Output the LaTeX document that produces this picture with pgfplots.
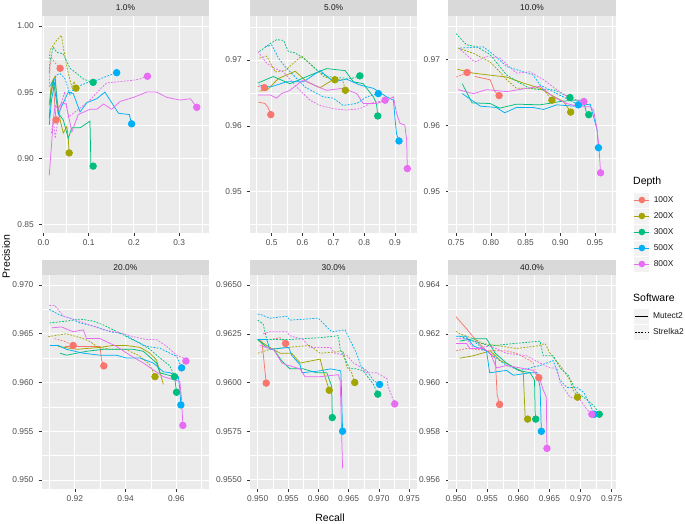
\documentclass[border=0pt]{standalone}
\usepackage{pgfplots}
\pgfplotsset{compat=1.18}
\usepackage{fontspec}
\setmainfont{Liberation Sans}
\definecolor{c100}{HTML}{F8766D}
\definecolor{c200}{HTML}{A3A500}
\definecolor{c300}{HTML}{00BF7D}
\definecolor{c500}{HTML}{00B0F6}
\definecolor{c800}{HTML}{E76BF3}
\definecolor{ggpanel}{HTML}{EBEBEB}
\definecolor{ggstrip}{HTML}{D9D9D9}
\definecolor{ggkey}{HTML}{F2F2F2}
\definecolor{gg30}{HTML}{4D4D4D}
\definecolor{gg20}{HTML}{333333}
\definecolor{gg10}{HTML}{1A1A1A}
\pgfplotsset{
  gg/.style={scale only axis, anchor=south west,
    axis background/.style={fill=ggpanel},
    grid=both,
    major grid style={white, line width=0.9pt},
    minor grid style={white, line width=0.45pt},
    axis line style={draw=none},
    tick pos=left, tick align=outside,
    major tick length=2.75pt, minor tick length=0pt,
    tick style={gg20, line width=0.5pt},
    tick label style={font=\fontsize{8.4}{9}\selectfont, text=gg30},
    yticklabel shift=2pt,
    every axis plot/.append style={line width=0.75pt},
  },
  M/.style={solid},
  S/.style={dash pattern=on 1.8pt off 1.4pt},
  D/.style={only marks, mark=*, mark size=3.3pt, mark options={solid}},
}
\begin{document}
\begin{tikzpicture}
\useasboundingbox (0pt,0pt) rectangle (685pt,523pt);

% ---------------- Panel 1.0% ----------------
\begin{axis}[gg, at={(42pt,290pt)}, width=167pt, height=217pt,
  xmin=-0.003, xmax=0.366, ymin=0.8434, ymax=1.0076,
  xtick={0,0.1,0.2,0.3}, xticklabels={0.0,0.1,0.2,0.3},
  minor xtick={0.05,0.15,0.25,0.35},
  ytick={0.85,0.90,0.95,1.00}, yticklabels={0.85,0.90,0.95,1.00},
  minor ytick={0.875,0.925,0.975}]
\addplot[c100,M] coordinates {(0.015,0.945)(0.022,0.957)(0.026,0.937)(0.028,0.929)};
\addplot[c100,S] coordinates {(0.013,0.954)(0.015,0.970)(0.018,0.976)(0.026,0.972)(0.037,0.968)};
\addplot[c200,M] coordinates {(0.013,0.940)(0.018,0.957)(0.026,0.962)(0.030,0.945)(0.037,0.929)(0.044,0.919)(0.052,0.924)(0.055,0.915)(0.057,0.904)};
\addplot[c200,S] coordinates {(0.013,0.975)(0.015,0.982)(0.029,0.989)(0.040,0.993)(0.044,0.984)(0.052,0.969)(0.059,0.959)(0.063,0.954)(0.068,0.958)(0.072,0.953)};
\addplot[c300,M] coordinates {(0.013,0.930)(0.017,0.950)(0.022,0.959)(0.033,0.934)(0.044,0.929)(0.055,0.915)(0.063,0.923)(0.081,0.923)(0.103,0.928)(0.105,0.896)(0.110,0.894)};
\addplot[c300,S] coordinates {(0.013,0.965)(0.015,0.974)(0.022,0.984)(0.030,0.980)(0.044,0.979)(0.052,0.973)(0.059,0.968)(0.074,0.964)(0.088,0.960)(0.103,0.958)(0.110,0.9574)};
\addplot[c500,M] coordinates {(0.013,0.925)(0.018,0.944)(0.026,0.959)(0.033,0.933)(0.040,0.939)(0.055,0.950)(0.066,0.949)(0.081,0.935)(0.096,0.942)(0.118,0.945)(0.136,0.950)(0.166,0.934)(0.190,0.933)(0.195,0.926)};
\addplot[c500,S] coordinates {(0.015,0.955)(0.022,0.958)(0.029,0.963)(0.037,0.964)(0.048,0.960)(0.059,0.948)(0.066,0.952)(0.081,0.955)(0.096,0.957)(0.118,0.959)(0.140,0.962)(0.162,0.9647)};
\addplot[c800,M] coordinates {(0.013,0.887)(0.018,0.910)(0.022,0.929)(0.026,0.940)(0.033,0.937)(0.040,0.942)(0.050,0.941)(0.063,0.920)(0.077,0.933)(0.103,0.937)(0.118,0.937)(0.133,0.941)(0.151,0.937)(0.170,0.943)(0.199,0.946)(0.228,0.950)(0.250,0.950)(0.273,0.946)(0.302,0.944)(0.325,0.945)(0.339,0.9385)};
\addplot[c800,S] coordinates {(0.018,0.919)(0.022,0.930)(0.026,0.915)(0.033,0.930)(0.040,0.942)(0.047,0.950)(0.055,0.931)(0.070,0.935)(0.085,0.939)(0.103,0.944)(0.125,0.952)(0.140,0.957)(0.170,0.958)(0.199,0.959)(0.214,0.960)(0.230,0.962)};
\addplot[c100,D] coordinates {(0.037,0.968)(0.028,0.929)};
\addplot[c200,D] coordinates {(0.072,0.953)(0.057,0.904)};
\addplot[c300,D] coordinates {(0.110,0.9574)(0.110,0.894)};
\addplot[c500,D] coordinates {(0.162,0.9647)(0.195,0.926)};
\addplot[c800,D] coordinates {(0.230,0.962)(0.339,0.9385)};
\end{axis}

% ---------------- Panel 5.0% ----------------
\begin{axis}[gg, at={(250pt,290pt)}, width=167.3pt, height=217pt,
  xmin=0.4295, xmax=0.9724, ymin=0.9437, ymax=0.9767,
  xtick={0.5,0.6,0.7,0.8,0.9}, xticklabels={0.5,0.6,0.7,0.8,0.9},
  minor xtick={0.45,0.55,0.65,0.75,0.85,0.95},
  ytick={0.95,0.96,0.97}, yticklabels={0.95,0.96,0.97},
  minor ytick={0.945,0.955,0.965,0.975}]
\addplot[c100,M] coordinates {(0.457,0.9636)(0.478,0.9634)(0.488,0.9628)(0.497,0.9617)};
\addplot[c100,S] coordinates {(0.455,0.9660)(0.466,0.9659)(0.476,0.9658)};
\addplot[c200,M] coordinates {(0.46,0.9653)(0.484,0.9654)(0.522,0.9672)(0.576,0.9683)(0.614,0.9667)(0.657,0.9658)(0.705,0.9672)};
\addplot[c200,S] coordinates {(0.46,0.9703)(0.484,0.9706)(0.511,0.9682)(0.543,0.9684)(0.597,0.9706)(0.63,0.9692)(0.668,0.9675)(0.70,0.967)(0.73,0.967)(0.739,0.9654)};
\addplot[c300,M] coordinates {(0.455,0.9665)(0.505,0.9675)(0.559,0.9664)(0.614,0.9675)(0.678,0.9687)(0.738,0.9684)(0.765,0.9667)(0.797,0.9664)(0.83,0.9644)(0.84,0.9634)(0.844,0.9615)};
\addplot[c300,S] coordinates {(0.46,0.9713)(0.495,0.9725)(0.516,0.9731)(0.538,0.973)(0.554,0.9713)(0.575,0.9711)(0.603,0.9703)(0.646,0.9685)(0.678,0.9675)(0.72,0.9673)(0.76,0.9672)(0.786,0.9676)};
\addplot[c500,M] coordinates {(0.46,0.9662)(0.495,0.9659)(0.549,0.9667)(0.603,0.9667)(0.657,0.9684)(0.70,0.9667)(0.743,0.9671)(0.786,0.9662)(0.83,0.9657)(0.873,0.9644)(0.895,0.9639)(0.90,0.9611)(0.905,0.9588)(0.913,0.9577)};
\addplot[c500,S] coordinates {(0.478,0.972)(0.5,0.9723)(0.522,0.9703)(0.543,0.969)(0.581,0.9672)(0.608,0.9659)(0.635,0.9652)(0.668,0.9644)(0.70,0.9642)(0.732,0.9631)(0.776,0.9634)(0.808,0.9644)(0.846,0.9649)};
\addplot[c800,M] coordinates {(0.455,0.9647)(0.495,0.9647)(0.516,0.9642)(0.532,0.9649)(0.559,0.9654)(0.603,0.967)(0.646,0.966)(0.678,0.9654)(0.732,0.9657)(0.776,0.9649)(0.797,0.9634)(0.84,0.9634)(0.873,0.9639)(0.895,0.9644)(0.905,0.9619)(0.916,0.9604)(0.932,0.9601)(0.938,0.9578)(0.94,0.9535)};
\addplot[c800,S] coordinates {(0.455,0.9713)(0.484,0.9695)(0.511,0.9687)(0.538,0.9682)(0.581,0.9659)(0.624,0.9639)(0.657,0.9631)(0.70,0.9626)(0.743,0.9624)(0.786,0.9626)(0.819,0.9634)(0.868,0.9639)};
\addplot[c100,D] coordinates {(0.476,0.9658)(0.497,0.9617)};
\addplot[c200,D] coordinates {(0.705,0.967)(0.739,0.9654)};
\addplot[c300,D] coordinates {(0.786,0.9676)(0.844,0.9615)};
\addplot[c500,D] coordinates {(0.846,0.9649)(0.913,0.9577)};
\addplot[c800,D] coordinates {(0.868,0.9639)(0.94,0.9535)};
\end{axis}

% ---------------- Panel 10.0% ----------------
\begin{axis}[gg, at={(448.3pt,290pt)}, width=167.4pt, height=217pt,
  xmin=0.7389, xmax=0.9798, ymin=0.94368, ymax=0.97656,
  xtick={0.75,0.80,0.85,0.90,0.95}, xticklabels={0.75,0.80,0.85,0.90,0.95},
  minor xtick={0.775,0.825,0.875,0.925,0.975},
  ytick={0.95,0.96,0.97}, yticklabels={0.95,0.96,0.97},
  minor ytick={0.945,0.955,0.965,0.975}]
\addplot[c100,M] coordinates {(0.777,0.9674)(0.799,0.9669)(0.806,0.9651)(0.812,0.9645)};
\addplot[c100,S] coordinates {(0.75,0.9673)(0.766,0.968)};
\addplot[c200,M] coordinates {(0.752,0.9685)(0.775,0.9679)(0.799,0.9676)(0.823,0.9673)(0.847,0.9664)(0.871,0.9656)(0.895,0.9641)(0.905,0.9636)(0.915,0.962)};
\addplot[c200,S] coordinates {(0.753,0.9717)(0.775,0.9709)(0.799,0.9696)(0.813,0.9681)(0.823,0.9669)(0.837,0.9656)(0.856,0.9656)(0.876,0.9654)(0.888,0.9638)};
\addplot[c300,M] coordinates {(0.759,0.9663)(0.773,0.9634)(0.799,0.9633)(0.813,0.9626)(0.837,0.9632)(0.871,0.9631)(0.90,0.9636)(0.919,0.9638)(0.933,0.9638)(0.938,0.9618)(0.941,0.9616)};
\addplot[c300,S] coordinates {(0.75,0.9739)(0.765,0.9722)(0.78,0.9719)(0.799,0.9707)(0.813,0.9689)(0.823,0.9676)(0.842,0.9664)(0.856,0.9656)(0.871,0.9654)(0.89,0.9654)(0.914,0.9642)};
\addplot[c500,M] coordinates {(0.759,0.9648)(0.785,0.9629)(0.808,0.9627)(0.82,0.9619)(0.837,0.9627)(0.861,0.9627)(0.876,0.9624)(0.895,0.9631)(0.919,0.9629)(0.943,0.9632)(0.948,0.9613)(0.953,0.9593)(0.955,0.9566)};
\addplot[c500,S] coordinates {(0.756,0.9717)(0.789,0.9719)(0.804,0.9707)(0.823,0.9689)(0.847,0.9681)(0.861,0.9676)(0.871,0.9661)(0.895,0.9648)(0.914,0.9638)(0.926,0.9631)};
\addplot[c800,M] coordinates {(0.753,0.9654)(0.775,0.9648)(0.794,0.9654)(0.823,0.9651)(0.852,0.9656)(0.871,0.9659)(0.89,0.9643)(0.909,0.9633)(0.928,0.9628)(0.943,0.9628)(0.948,0.9623)(0.953,0.9593)(0.956,0.9563)(0.958,0.9528)};
\addplot[c800,S] coordinates {(0.756,0.9715)(0.777,0.9696)(0.794,0.9704)(0.813,0.9702)(0.837,0.9679)(0.856,0.9681)(0.876,0.9669)(0.895,0.9654)(0.914,0.9641)(0.934,0.9636)};
\addplot[c100,D] coordinates {(0.766,0.968)(0.812,0.9645)};
\addplot[c200,D] coordinates {(0.888,0.9638)(0.915,0.962)};
\addplot[c300,D] coordinates {(0.914,0.9642)(0.941,0.9616)};
\addplot[c500,D] coordinates {(0.926,0.9631)(0.955,0.9566)};
\addplot[c800,D] coordinates {(0.934,0.9636)(0.958,0.9528)};
\end{axis}

% ---------------- Panel 20.0% ----------------
\begin{axis}[gg, at={(41.7pt,33.7pt)}, width=167.3pt, height=214pt,
  xmin=0.9069, xmax=0.9729, ymin=0.94905, ymax=0.97099,
  xtick={0.92,0.94,0.96}, xticklabels={0.92,0.94,0.96},
  minor xtick={0.91,0.93,0.95,0.97},
  ytick={0.950,0.955,0.960,0.965,0.970}, yticklabels={0.950,0.955,0.960,0.965,0.970},
  minor ytick={0.9525,0.9575,0.9625,0.9675}]
\addplot[c100,M] coordinates {(0.916,0.9637)(0.9299,0.9637)(0.9305,0.9623)(0.9314,0.9617)};
\addplot[c100,S] coordinates {(0.912,0.9645)(0.916,0.9642)(0.9193,0.9638)};
\addplot[c200,M] coordinates {(0.9134,0.9637)(0.9207,0.9634)(0.9299,0.9636)(0.935,0.9638)(0.940,0.9638)(0.9457,0.9636)(0.9496,0.963)(0.9522,0.9623)(0.9549,0.9598)};
\addplot[c200,S] coordinates {(0.9095,0.9647)(0.9167,0.965)(0.9233,0.9645)(0.9259,0.9642)(0.9286,0.9637)(0.9338,0.9634)(0.940,0.9634)(0.9457,0.9627)(0.9496,0.9618)(0.9516,0.9606)};
\addplot[c300,M] coordinates {(0.9141,0.963)(0.9167,0.9628)(0.9246,0.9632)(0.9312,0.9634)(0.9378,0.9634)(0.943,0.9634)(0.947,0.9632)(0.9522,0.962)(0.9535,0.961)(0.9562,0.9608)(0.9593,0.9606)(0.9601,0.959)};
\addplot[c300,S] coordinates {(0.9099,0.9661)(0.9167,0.9663)(0.922,0.9665)(0.9272,0.9663)(0.9312,0.9659)(0.9351,0.9654)(0.9404,0.9647)(0.9457,0.964)(0.9496,0.9634)(0.9536,0.9625)(0.9575,0.9617)(0.9593,0.9606)};
\addplot[c500,M] coordinates {(0.9101,0.9638)(0.9134,0.9638)(0.9167,0.9634)(0.9233,0.963)(0.9299,0.9628)(0.9364,0.9628)(0.9404,0.9625)(0.9457,0.9625)(0.9509,0.962)(0.9549,0.9611)(0.9575,0.961)(0.9608,0.9606)(0.9614,0.9593)(0.9618,0.9577)};
\addplot[c500,S] coordinates {(0.9099,0.9675)(0.9141,0.9669)(0.918,0.9666)(0.922,0.9661)(0.9286,0.9657)(0.9338,0.9652)(0.9391,0.965)(0.943,0.9644)(0.9483,0.9637)(0.9536,0.9635)(0.9575,0.963)(0.9601,0.9627)(0.9621,0.9615)};
\addplot[c800,M] coordinates {(0.9108,0.9656)(0.9147,0.9657)(0.9193,0.9652)(0.9233,0.9654)(0.9246,0.9645)(0.9299,0.9645)(0.9364,0.9637)(0.9417,0.9628)(0.947,0.962)(0.9509,0.9613)(0.9549,0.9606)(0.9588,0.9603)(0.9614,0.9601)(0.9621,0.9582)(0.9626,0.9556)};
\addplot[c800,S] coordinates {(0.9099,0.9679)(0.9121,0.9679)(0.9154,0.9668)(0.9207,0.9664)(0.9259,0.9659)(0.9312,0.9654)(0.9378,0.9651)(0.943,0.9647)(0.9483,0.9644)(0.9522,0.9644)(0.9562,0.9637)(0.9601,0.9628)(0.9628,0.9625)(0.9638,0.9622)};
\addplot[c100,D] coordinates {(0.9193,0.9638)(0.9314,0.9617)};
\addplot[c200,D] coordinates {(0.9516,0.9606)};
\addplot[c300,D] coordinates {(0.9593,0.9606)(0.9601,0.959)};
\addplot[c500,D] coordinates {(0.9621,0.9615)(0.9618,0.9577)};
\addplot[c800,D] coordinates {(0.9638,0.9622)(0.9626,0.9556)};
\end{axis}

% ---------------- Panel 30.0% ----------------
\begin{axis}[gg, at={(250pt,33.7pt)}, width=167.3pt, height=214pt,
  xmin=0.94873, xmax=0.97632, ymin=0.95452, ymax=0.9655,
  xtick={0.950,0.955,0.960,0.965,0.970,0.975}, xticklabels={0.950,0.955,0.960,0.965,0.970,0.975},
  minor xtick={0.9525,0.9575,0.9625,0.9675,0.9725},
  ytick={0.9550,0.9575,0.9600,0.9625,0.9650}, yticklabels={0.9550,0.9575,0.9600,0.9625,0.9650},
  minor ytick={0.95625,0.95875,0.96125,0.96375}]
\addplot[c100,M] coordinates {(0.95,0.9622)(0.9507,0.9621)(0.951,0.9612)(0.9514,0.95997)};
\addplot[c100,S] coordinates {(0.952,0.9622)(0.9537,0.9623)(0.9546,0.962)};
\addplot[c200,M] coordinates {(0.95,0.9622)(0.952,0.9618)(0.9537,0.9615)(0.9556,0.9615)(0.957,0.961)(0.9603,0.9612)(0.9608,0.9606)(0.9618,0.9596)};
\addplot[c200,S] coordinates {(0.95,0.9615)(0.952,0.9617)(0.9548,0.9618)(0.9586,0.9619)(0.9603,0.9615)(0.9641,0.9616)(0.9647,0.9608)(0.9655,0.9605)(0.966,0.96)};
\addplot[c300,M] coordinates {(0.95,0.9622)(0.9515,0.9618)(0.9526,0.9617)(0.954,0.9611)(0.9553,0.9607)(0.9575,0.9607)(0.9597,0.9605)(0.9614,0.9605)(0.9622,0.9598)(0.9623,0.9582)};
\addplot[c300,S] coordinates {(0.95,0.9632)(0.9509,0.963)(0.9515,0.9622)(0.9548,0.9622)(0.9603,0.9623)(0.9633,0.9624)(0.9636,0.9617)(0.9652,0.9607)(0.9663,0.9607)(0.9674,0.9606)(0.9691,0.9599)(0.9698,0.9594)};
\addplot[c500,M] coordinates {(0.95,0.9622)(0.9515,0.9622)(0.952,0.9617)(0.9551,0.9618)(0.9556,0.9614)(0.957,0.9609)(0.9573,0.9605)(0.9603,0.9606)(0.962,0.9607)(0.9637,0.9606)(0.9638,0.9598)(0.964,0.9575)};
\addplot[c500,S] coordinates {(0.95,0.9635)(0.9504,0.9635)(0.952,0.9633)(0.9548,0.9634)(0.9553,0.9632)(0.96,0.9633)(0.9622,0.9626)(0.9644,0.9627)(0.9652,0.9622)(0.9663,0.9615)(0.9671,0.9608)(0.968,0.9606)(0.9691,0.9601)(0.9701,0.9599)};
\addplot[c800,M] coordinates {(0.9504,0.9619)(0.9515,0.9618)(0.9526,0.9617)(0.954,0.961)(0.9548,0.9609)(0.957,0.9607)(0.9578,0.9603)(0.9603,0.9603)(0.9633,0.9604)(0.9636,0.9601)(0.964,0.9556)};
\addplot[c800,S] coordinates {(0.9509,0.9625)(0.952,0.9626)(0.9548,0.9626)(0.9553,0.9624)(0.9575,0.9622)(0.9586,0.9618)(0.962,0.9618)(0.9627,0.9615)(0.9647,0.9614)(0.9658,0.961)(0.9669,0.9608)(0.968,0.9605)(0.9696,0.9605)(0.9713,0.9602)(0.9715,0.9598)(0.9726,0.9589)};
\addplot[c100,D] coordinates {(0.9546,0.962)(0.9514,0.95997)};
\addplot[c200,D] coordinates {(0.966,0.96)(0.9618,0.9596)};
\addplot[c300,D] coordinates {(0.9698,0.9594)(0.9623,0.9582)};
\addplot[c500,D] coordinates {(0.9701,0.9599)(0.964,0.9575)};
\addplot[c800,D] coordinates {(0.9726,0.9589)};
\end{axis}

% ---------------- Panel 40.0% ----------------
\begin{axis}[gg, at={(448.3pt,33.7pt)}, width=167.4pt, height=214pt,
  xmin=0.94876, xmax=0.97564, ymin=0.95562, ymax=0.9644,
  xtick={0.950,0.955,0.960,0.965,0.970,0.975}, xticklabels={0.950,0.955,0.960,0.965,0.970,0.975},
  minor xtick={0.9525,0.9575,0.9625,0.9675,0.9725},
  ytick={0.956,0.958,0.960,0.962,0.964}, yticklabels={0.956,0.958,0.960,0.962,0.964},
  minor ytick={0.957,0.959,0.961,0.963}]
\addplot[c100,M] coordinates {(0.95,0.9627)(0.9517,0.9622)(0.9533,0.9617)(0.9549,0.9613)(0.9563,0.961)(0.9566,0.9595)(0.957,0.9591)};
\addplot[c100,S] coordinates {(0.95,0.9613)(0.9517,0.9614)(0.9555,0.9613)(0.9581,0.9613)(0.9597,0.9612)(0.9619,0.9609)(0.9624,0.9608)(0.9627,0.9605)(0.9633,0.9602)};
\addplot[c200,M] coordinates {(0.9506,0.961)(0.9528,0.9611)(0.9555,0.9613)(0.9571,0.9609)(0.9587,0.9607)(0.9603,0.9605)(0.9608,0.9604)(0.9611,0.9586)(0.9615,0.9585)};
\addplot[c200,S] coordinates {(0.95,0.9621)(0.9506,0.962)(0.9528,0.9618)(0.9544,0.9616)(0.9571,0.9615)(0.9597,0.9614)(0.963,0.9615)(0.9643,0.9616)(0.9651,0.9612)(0.9667,0.9607)(0.9683,0.9601)(0.9688,0.9597)(0.9695,0.9594)};
\addplot[c300,M] coordinates {(0.9506,0.9617)(0.9528,0.9618)(0.9549,0.9618)(0.9563,0.9612)(0.9581,0.9608)(0.96,0.9605)(0.9619,0.9604)(0.9626,0.9601)(0.9627,0.9588)(0.9628,0.9585)};
\addplot[c300,S] coordinates {(0.9506,0.9619)(0.9528,0.9617)(0.9555,0.9615)(0.9592,0.9616)(0.9635,0.9617)(0.964,0.9611)(0.9656,0.9611)(0.9667,0.9606)(0.968,0.9603)(0.9694,0.9596)(0.971,0.9593)(0.9723,0.959)(0.973,0.9587)};
\addplot[c500,M] coordinates {(0.95,0.9619)(0.9516,0.9619)(0.9528,0.9615)(0.9549,0.9613)(0.9554,0.9604)(0.9581,0.9605)(0.9592,0.9603)(0.9619,0.9604)(0.963,0.9604)(0.9635,0.9598)(0.9637,0.958)};
\addplot[c500,S] coordinates {(0.9512,0.9618)(0.9528,0.9617)(0.9549,0.9613)(0.9581,0.9607)(0.9603,0.9605)(0.9635,0.9607)(0.9656,0.9609)(0.9667,0.9601)(0.9678,0.9598)(0.9694,0.9598)(0.9705,0.9596)(0.9715,0.9591)(0.9722,0.9587)};
\addplot[c800,M] coordinates {(0.95,0.9616)(0.9517,0.9616)(0.9522,0.9614)(0.9544,0.9614)(0.9555,0.9612)(0.9565,0.9606)(0.9581,0.9607)(0.9603,0.9606)(0.9624,0.9605)(0.9635,0.9601)(0.964,0.9597)(0.9645,0.9594)(0.9646,0.9573)};
\addplot[c800,S] coordinates {(0.95,0.9618)(0.9517,0.9618)(0.9528,0.9614)(0.9555,0.9615)(0.9581,0.9612)(0.9613,0.9611)(0.9635,0.9608)(0.9651,0.9606)(0.9662,0.9606)(0.9667,0.96)(0.9683,0.9594)(0.9699,0.9593)(0.971,0.9589)(0.9718,0.9587)};
\addplot[c100,D] coordinates {(0.9633,0.9602)(0.957,0.9591)};
\addplot[c200,D] coordinates {(0.9695,0.9594)(0.9615,0.9585)};
\addplot[c300,D] coordinates {(0.973,0.9587)(0.9628,0.9585)};
\addplot[c500,D] coordinates {(0.9722,0.9587)(0.9637,0.958)};
\addplot[c800,D] coordinates {(0.9718,0.9587)(0.9646,0.9573)};
\end{axis}

% ---------------- Legends ----------------
\begin{axis}[hide axis, scale only axis, width=10pt, height=10pt,
  at={(634pt,331pt)}, anchor=north west, xmin=0, xmax=1, ymin=0, ymax=1,
  legend cell align=left,
  legend style={at={(0,1)}, anchor=north west, draw=none, fill=none,
    inner sep=0pt, outer sep=0pt, row sep=0pt, column sep=4pt,
    nodes={inner sep=0pt}, font=\fontsize{8.4}{9}\selectfont, text=gg10},
  legend image code/.code={
    \path[draw=none, fill=none] (0pt,-8pt) rectangle (15pt,8pt);
    \path[draw=none, fill=ggkey] (0pt,-7.5pt) rectangle (15pt,7.5pt);
    \path[draw=#1, fill=none, line width=0.75pt, solid] (0pt,0pt) -- (15pt,0pt);
    \path[draw=none, fill=#1] (7.5pt,0pt) circle (3.3pt);
  }]
\addlegendimage{c100}\addlegendentry{100X}
\addlegendimage{c200}\addlegendentry{200X}
\addlegendimage{c300}\addlegendentry{300X}
\addlegendimage{c500}\addlegendentry{500X}
\addlegendimage{c800}\addlegendentry{800X}
\end{axis}
\begin{axis}[hide axis, scale only axis, width=10pt, height=10pt,
  at={(634pt,215pt)}, anchor=north west, xmin=0, xmax=1, ymin=0, ymax=1,
  legend cell align=left,
  legend style={at={(0,1)}, anchor=north west, draw=none, fill=none,
    inner sep=0pt, outer sep=0pt, row sep=0pt, column sep=4pt,
    nodes={inner sep=0pt}, font=\fontsize{8.4}{9}\selectfont, text=gg10},
  legend image code/.code={
    \path[draw=none, fill=none] (0pt,-8pt) rectangle (15pt,8pt);
    \path[draw=none, fill=ggkey] (0pt,-7.5pt) rectangle (15pt,7.5pt);
    \path[draw=black, fill=none, line width=0.75pt, #1] (1pt,0pt) -- (14pt,0pt);
  }]
\addlegendimage{solid}\addlegendentry{Mutect2}
\addlegendimage{dash pattern=on 1.8pt off 1.4pt}\addlegendentry{Strelka2}
\end{axis}

% ---------------- Strips, titles ----------------
\begin{scope}[x=1pt,y=1pt]
\fill[ggstrip] (42,507) rectangle (209,523);
\fill[ggstrip] (250,507) rectangle (417.3,523);
\fill[ggstrip] (448.3,507) rectangle (615.7,523);
\fill[ggstrip] (41.7,247.7) rectangle (209,263.5);
\fill[ggstrip] (250,247.7) rectangle (417.3,263.5);
\fill[ggstrip] (448.3,247.7) rectangle (615.7,263.5);
\begin{scope}[every node/.style={font=\fontsize{8.4}{9}\selectfont, text=gg10}]
\node at (125.5,515) {1.0\%};
\node at (333.6,515) {5.0\%};
\node at (532,515) {10.0\%};
\node at (125.4,255.6) {20.0\%};
\node at (333.6,255.6) {30.0\%};
\node at (532,255.6) {40.0\%};
\end{scope}
\node[font=\fontsize{10.5}{12}\selectfont, rotate=90] at (6,266.5) {Precision};
\node[font=\fontsize{10.5}{12}\selectfont] at (330,5.5) {Recall};
\node[font=\fontsize{10.5}{12}\selectfont, anchor=west, inner sep=0pt] at (633,341) {Depth};
\node[font=\fontsize{10.5}{12}\selectfont, anchor=west, inner sep=0pt] at (633,225.7) {Software};
\end{scope}
\end{tikzpicture}
\end{document}
